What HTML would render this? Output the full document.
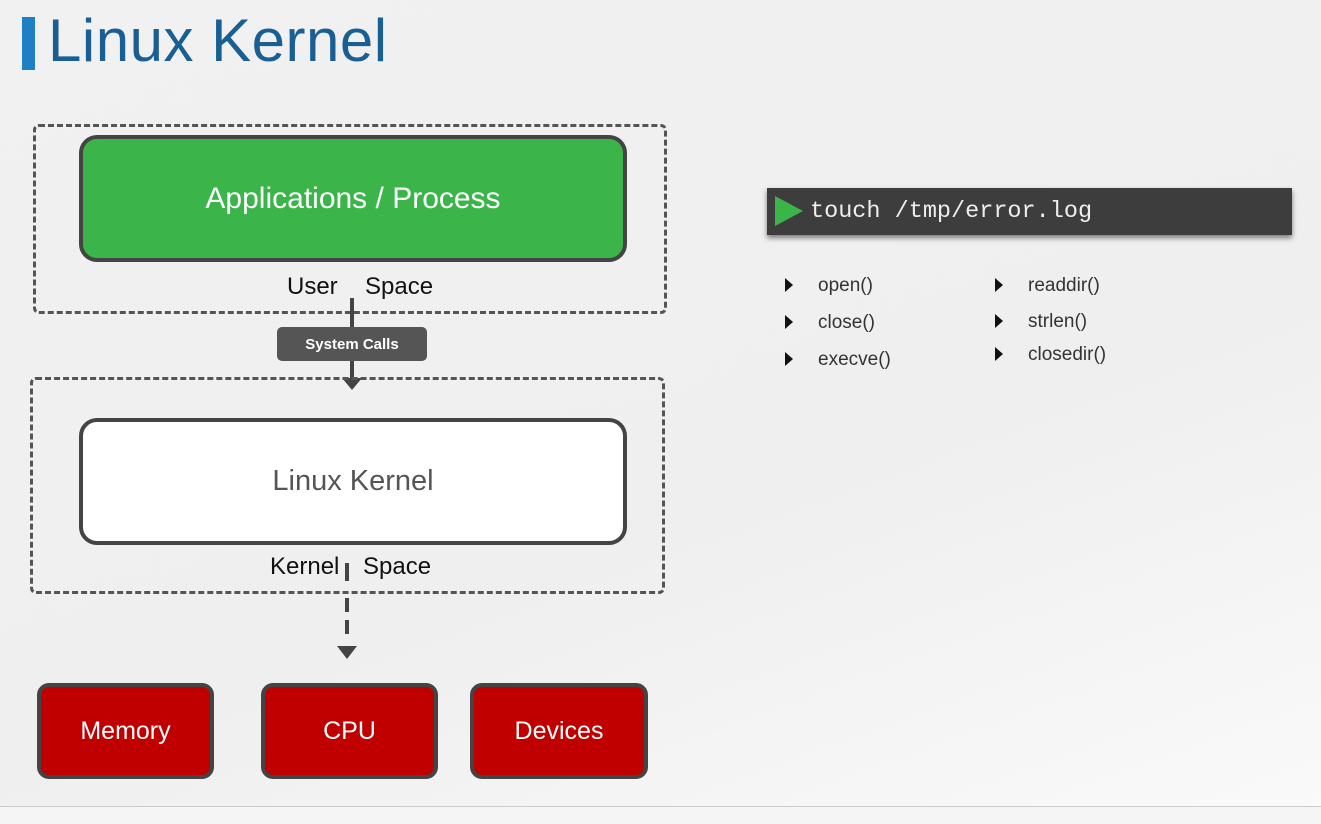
<!DOCTYPE html>
<html><head><style>
body{margin:0;width:1321px;height:823px;overflow:hidden;background:linear-gradient(160deg,#f1f1f1 0%,#efefef 60%,#fafafa 100%);font-family:"Liberation Sans",sans-serif;position:relative}
.a{position:absolute}
.dash{position:absolute;border:3px dashed #555;border-radius:6px;box-sizing:border-box}
.box{position:absolute;border:4px solid #444;border-radius:18px;box-sizing:border-box;display:flex;align-items:center;justify-content:center}
.red{background:#c00000;color:#fff;font-size:25px;border-radius:12px}
.fn{position:absolute;font-size:19px;color:#333}
.tri{position:absolute;width:0;height:0;border-top:7px solid transparent;border-bottom:7px solid transparent;border-left:8px solid #111}
</style></head><body>
<div class="a" style="left:22px;top:17px;width:13px;height:53px;background:#1f7fc4"></div>
<div class="a" style="left:48px;top:6px;font-size:60px;letter-spacing:0.5px;color:#1a5f93">Linux Kernel</div>
<div class="dash" style="left:33px;top:124px;width:634px;height:190px"></div>
<div class="box" style="left:79px;top:135px;width:548px;height:127px;background:#3bb54a;color:#fff;font-size:30px">Applications / Process</div>
<div class="a" style="left:287px;top:273px;font-size:24px;color:#111">User</div>
<div class="a" style="left:365px;top:273px;font-size:24px;color:#111">Space</div>
<div class="a" style="left:350px;top:298px;width:4px;height:30px;background:#444"></div>
<div class="a" style="left:277px;top:327px;width:150px;height:34px;background:#555;border-radius:5px;color:#fff;font-weight:bold;font-size:15px;display:flex;align-items:center;justify-content:center">System Calls</div>
<div class="a" style="left:350px;top:361px;width:4px;height:18px;background:#444"></div>
<div class="a" style="left:342px;top:378px;border-left:10px solid transparent;border-right:10px solid transparent;border-top:12px solid #444"></div>
<div class="dash" style="left:30px;top:377px;width:635px;height:217px"></div>
<div class="box" style="left:79px;top:418px;width:548px;height:127px;background:#fff;color:#555;font-size:29px">Linux Kernel</div>
<div class="a" style="left:270px;top:553px;font-size:24px;color:#111">Kernel</div>
<div class="a" style="left:363px;top:553px;font-size:24px;color:#111">Space</div>
<div class="a" style="left:345px;top:563px;width:4px;height:18px;background:#444"></div>
<div class="a" style="left:345px;top:598px;width:4px;height:14px;background:#444"></div>
<div class="a" style="left:345px;top:620px;width:4px;height:14px;background:#444"></div>
<div class="a" style="left:337px;top:646px;border-left:10px solid transparent;border-right:10px solid transparent;border-top:13px solid #444"></div>
<div class="box red" style="left:37px;top:683px;width:177px;height:96px">Memory</div>
<div class="box red" style="left:261px;top:683px;width:177px;height:96px">CPU</div>
<div class="box red" style="left:470px;top:683px;width:178px;height:96px">Devices</div>
<div class="a" style="left:767px;top:188px;width:525px;height:47px;background:#3d3d3d;box-shadow:0 3px 5px rgba(0,0,0,.5)"></div>
<div class="a" style="left:775px;top:196px;border-top:15px solid transparent;border-bottom:15px solid transparent;border-left:28px solid #3bb54a"></div>
<div class="a" style="left:810px;top:198px;font-family:'Liberation Mono',monospace;font-size:23.5px;color:#eee">touch /tmp/error.log</div>
<div class="tri" style="left:785px;top:278px"></div><div class="fn" style="left:818px;top:275px">open()</div>
<div class="tri" style="left:785px;top:315px"></div><div class="fn" style="left:818px;top:312px">close()</div>
<div class="tri" style="left:785px;top:352px"></div><div class="fn" style="left:818px;top:349px">execve()</div>
<div class="tri" style="left:995px;top:278px"></div><div class="fn" style="left:1028px;top:275px">readdir()</div>
<div class="tri" style="left:995px;top:314px"></div><div class="fn" style="left:1028px;top:311px">strlen()</div>
<div class="tri" style="left:995px;top:347px"></div><div class="fn" style="left:1028px;top:344px">closedir()</div>
<div class="a" style="left:0;top:806px;width:1321px;height:17px;background:#f5f5f5;border-top:1px solid #ccc"></div>
</body></html>
